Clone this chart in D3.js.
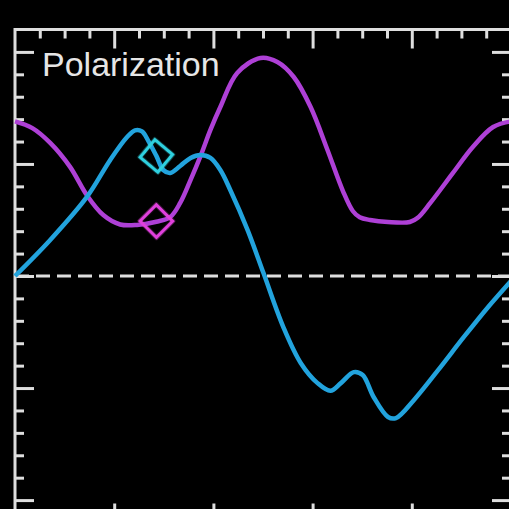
<!DOCTYPE html>
<html>
<head>
<meta charset="utf-8">
<script src="https://cdn.jsdelivr.net/npm/d3@7"></script>
<style>
  html, body { margin: 0; padding: 0; background: #000; }
  svg { display: block; }
</style>
</head>
<body>
<div id="chart"></div>
<script>
// curve samples (x in 0..100, y in -1.1..1.1)
const magentaX = [0, 3.5, 7.1, 11.1, 14.5, 17.8, 21.2, 24.6, 28.5, 31.3, 33.3, 35.4, 37.4, 39.4, 41.4, 44.8, 49.5, 52.9, 56.2, 59.6, 63.0, 66.1, 68.1, 69.5, 71.6, 75.2, 79.6, 81.2, 83.7, 88.3, 92.3, 96.4, 100]
const magentaY = [0.69, 0.66, 0.594, 0.487, 0.36, 0.272, 0.23, 0.228, 0.242, 0.263, 0.326, 0.429, 0.535, 0.652, 0.754, 0.906, 0.973, 0.955, 0.888, 0.754, 0.5625, 0.38, 0.29, 0.262, 0.25, 0.241, 0.241, 0.26, 0.325, 0.46, 0.576, 0.665, 0.69]
const cyanX = [0, 7.1, 14.5, 19.2, 22.6, 24.2, 25.6, 26.9, 28.5, 29.9, 31.3, 33.3, 35.4, 37.4, 39.4, 41.4, 43.4, 46.9, 50.1, 54.1, 57.6, 61.0, 63.6, 65.7, 68.3, 70.1, 72.3, 75.2, 76.8, 80.4, 85.3, 90.5, 95.4, 100]
const cyanY = [0, 0.161, 0.353, 0.518, 0.62, 0.65, 0.645, 0.602, 0.536, 0.473, 0.46, 0.491, 0.527, 0.54, 0.527, 0.473, 0.384, 0.205, 0.013, -0.228, -0.388, -0.478, -0.512, -0.478, -0.429, -0.442, -0.54, -0.629, -0.634, -0.554, -0.42, -0.272, -0.138, -0.022]
const markerX = [28.5, 28.5]
const markerY = [0.536, 0.245]
const title = 'Polarization'

const xMajor = [20, 40, 60, 80]
const xMinor = [5, 10, 15, 25, 30, 35, 45, 50, 55, 65, 70, 75, 85, 90, 95]
const yMajor = [-1, -0.5, 0, 0.5, 1]
const yMinor = [-0.9, -0.8, -0.7, -0.6, -0.4, -0.3, -0.2, -0.1, 0.1, 0.2, 0.3, 0.4, 0.6, 0.7, 0.8, 0.9]

const width = 509
const height = 509
const frameColor = '#dedede'

const svg = d3.select('#chart').append('svg')
    .attr('width', width)
    .attr('height', height)
    .style('background', '#000')

const x = d3.scaleLinear().domain([0, 100]).range([15, 511])
const y = d3.scaleLinear().domain([-1.1, 1.1]).range([522.5, 29.5])

const defs = svg.append('defs')
defs.append('filter').attr('id', 'soft')
    .append('feGaussianBlur').attr('stdDeviation', 0.7)

// frame
svg.append('rect')
    .attr('x', x(0))
    .attr('y', y(1.1))
    .attr('width', x(100) - x(0))
    .attr('height', y(-1.1) - y(1.1))
    .attr('fill', 'none')
    .attr('stroke', frameColor)
    .attr('stroke-width', 3)

function styleAxis (g) {
    g.select('.domain').remove()
    g.selectAll('.tick line').attr('stroke', frameColor).attr('stroke-width', 3)
    g.selectAll('.tick text').remove()
}

// ticks point inward on all four sides
const sides = [
    { axis: d3.axisTop, scale: x, tr: `translate(0,${y(1.1)})`, major: xMajor, minor: xMinor },
    { axis: d3.axisBottom, scale: x, tr: `translate(0,${y(-1.1)})`, major: xMajor, minor: xMinor },
    { axis: d3.axisLeft, scale: y, tr: `translate(${x(0)},0)`, major: yMajor, minor: yMinor },
    { axis: d3.axisRight, scale: y, tr: `translate(${x(100)},0)`, major: yMajor, minor: yMinor }
]
sides.forEach(s => {
    svg.append('g')
        .attr('transform', s.tr)
        .call(s.axis(s.scale).tickValues(s.major).tickSize(-19).tickSizeOuter(0))
        .call(styleAxis)
    svg.append('g')
        .attr('transform', s.tr)
        .call(s.axis(s.scale).tickValues(s.minor).tickSize(-9).tickSizeOuter(0))
        .call(styleAxis)
})

// zero line
svg.append('line')
    .attr('x1', x(0))
    .attr('x2', x(100))
    .attr('y1', y(0))
    .attr('y2', y(0))
    .attr('stroke', frameColor)
    .attr('stroke-width', 3)
    .attr('stroke-dasharray', '14,7')

const line = d3.line()
    .x(d => x(d[0]))
    .y(d => y(d[1]))
    .curve(d3.curveCatmullRom.alpha(0.5))

const magenta = magentaX.map((v, i) => [v, magentaY[i]])
const cyan = cyanX.map((v, i) => [v, cyanY[i]])

svg.append('path')
    .datum(magenta)
    .attr('d', line)
    .attr('fill', 'none')
    .attr('stroke', '#ae3fd6')
    .attr('stroke-width', 4.5)
    .attr('stroke-linejoin', 'round')
    .attr('filter', 'url(#soft)')

svg.append('path')
    .datum(cyan)
    .attr('d', line)
    .attr('fill', 'none')
    .attr('stroke', '#22a3dd')
    .attr('stroke-width', 4.5)
    .attr('stroke-linejoin', 'round')
    .attr('filter', 'url(#soft)')

// diamond markers
const markerColors = ['#2ed0df', '#e03fdc']
const markerAngles = [40, 45]
const square = d3.symbol().type(d3.symbolSquare).size(540)
svg.selectAll('.marker')
    .data(markerX)
    .enter()
    .append('path')
    .attr('class', 'marker')
    .attr('d', square)
    .attr('transform', (d, i) => `translate(${x(d)},${y(markerY[i])}) rotate(${markerAngles[i]})`)
    .attr('fill', 'none')
    .attr('stroke', (d, i) => markerColors[i])
    .attr('stroke-width', 3.5)
    .attr('filter', 'url(#soft)')

svg.append('text')
    .attr('x', 42)
    .attr('y', 76)
    .attr('fill', '#e6e6e6')
    .attr('font-family', 'Liberation Sans, Arial, sans-serif')
    .attr('font-size', 34)
    .text(title)
</script>
</body>
</html>
